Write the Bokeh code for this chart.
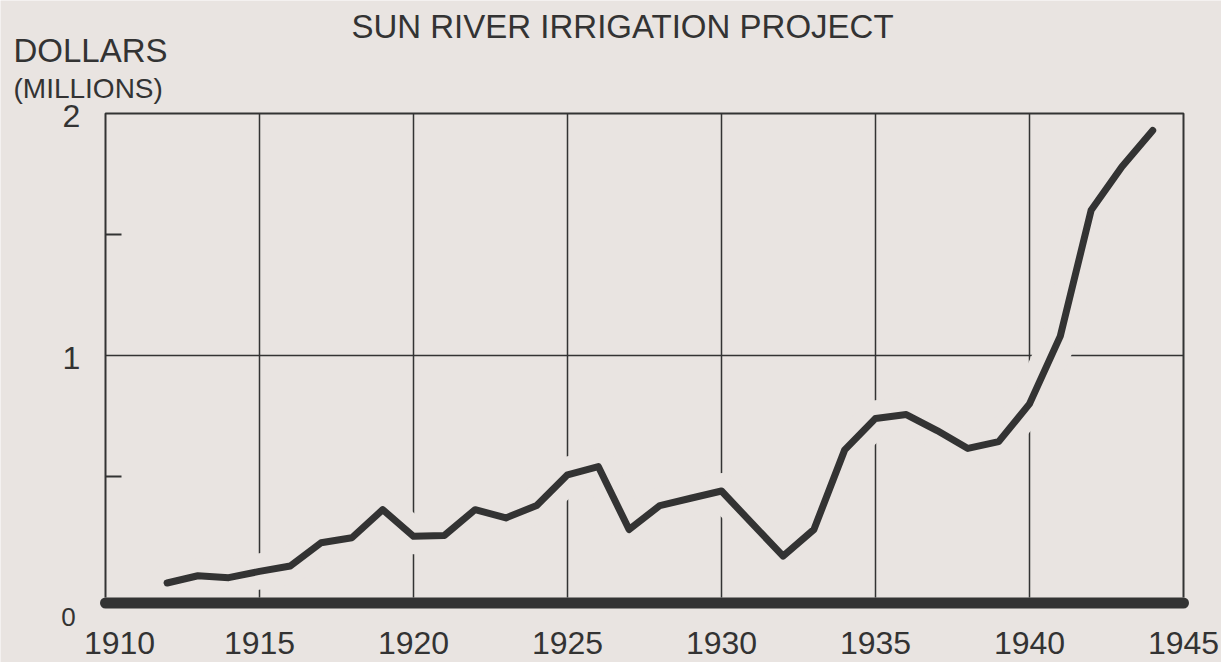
from bokeh.plotting import figure
from bokeh.models import Range1d
from bokeh.embed import file_html
from bokeh.resources import INLINE
from bokeh.core.properties import value

# ---- data ----
years = [1912, 1913, 1914, 1915, 1916, 1917, 1918, 1919, 1920, 1921, 1922,
         1923, 1924, 1925, 1926, 1927, 1928, 1929, 1930, 1931, 1932, 1933,
         1934, 1935, 1936, 1937, 1938, 1939, 1940, 1941, 1942, 1943, 1944]
costs = [0.06, 0.09, 0.082, 0.108, 0.13, 0.226, 0.247, 0.363, 0.253, 0.256, 0.363,
         0.329, 0.38, 0.507, 0.541, 0.281, 0.38, 0.41, 0.44, 0.305, 0.171, 0.281,
         0.61, 0.74, 0.756, 0.69, 0.616, 0.644, 0.80, 1.08, 1.60, 1.78, 1.93]
x_ticks = [1910, 1915, 1920, 1925, 1930, 1935, 1940, 1945]
y_ticks = [0, 1, 2]
y_minor = [0.5, 1.5]
title_text = "SUN RIVER IRRIGATION PROJECT"
unit_line1 = "DOLLARS"
unit_line2 = "(MILLIONS)"

# ---- layout / style ----
W, H = 1221, 662
PX_L, PX_R = 105, 1183        # chart box left / right edge (pixels)
PX_T, PX_B = 113, 597         # chart box top / zero line (pixels)
BG = "#e9e4e1"
INK = "#333333"
FONT = "Liberation Sans"

sx = (x_ticks[-1] - x_ticks[0]) / (PX_R - PX_L)   # data units per pixel
sy = (y_ticks[-1] - y_ticks[0]) / (PX_B - PX_T)
x0, x1 = x_ticks[0], x_ticks[-1]
y0, y1 = y_ticks[0], y_ticks[-1]

p = figure(width=W, height=H,
           x_range=Range1d(x0 - PX_L * sx, x1 + (W - PX_R) * sx),
           y_range=Range1d(y0 - (H - PX_B) * sy, y1 + PX_T * sy),
           output_backend="svg", toolbar_location=None, min_border=0)
p.background_fill_color = BG
p.border_fill_color = BG
p.outline_line_color = None
p.grid.visible = False
p.axis.visible = False

# grid lines
inner_x = x_ticks[1:-1]
p.segment(x0=inner_x, y0=[y0] * len(inner_x), x1=inner_x, y1=[y1] * len(inner_x),
          line_color=INK, line_width=1.5)
p.segment(x0=[x0], y0=[y_ticks[1]], x1=[x1], y1=[y_ticks[1]], line_color=INK, line_width=1.5)
# short inside ticks on the left edge
p.segment(x0=[x0] * len(y_minor), y0=y_minor, x1=[x0 + 16 * sx] * len(y_minor), y1=y_minor,
          line_color=INK, line_width=2)

# halo under the curve (grid lines break where the curve crosses)
p.line(years, costs, line_color=BG, line_width=36, line_cap="round", line_join="round")

# box: left, top, right
p.line([x0, x0, x1, x1], [y0, y1, y1, y0], line_color=INK, line_width=2)
# heavy base line (drawn just under the zero level)
p.line([x0, x1], [y0 - 5.5 * sy, y0 - 5.5 * sy], line_color=INK, line_width=11, line_cap="round")

# the curve
p.line(years, costs, line_color=INK, line_width=7, line_cap="round", line_join="round")

# x tick labels
xl_x = [t + (14 * sx if t == x0 else 0) for t in x_ticks]
p.text(x=xl_x, y=[y0 - 45 * sy] * len(x_ticks), text=[str(t) for t in x_ticks],
       text_align="center", text_baseline="middle", text_font=value(FONT),
       text_font_size=value("32px"), text_color=INK)
# y tick labels
p.text(x=[x0 - 34 * sx] * (len(y_ticks) - 1), y=[t - 2 * sy for t in y_ticks[1:]],
       text=[str(t) for t in y_ticks[1:]],
       text_align="center", text_baseline="middle", text_font=value(FONT),
       text_font_size=value("32px"), text_color=INK)
p.text(x=[x0 - 37 * sx], y=[y0 - 19 * sy], text=[str(y0)],
       text_align="center", text_baseline="middle", text_font=value(FONT),
       text_font_size=value("26px"), text_color=INK)

# title and unit labels
p.text(x=[x0 + (622 - PX_L) * sx], y=[y1 + (PX_T - 26) * sy], text=[title_text],
       text_align="center", text_baseline="middle", text_font=value(FONT),
       text_font_size=value("33px"), text_color=INK)
p.text(x=[x0 - (PX_L - 13) * sx], y=[y1 + (PX_T - 50) * sy], text=[unit_line1],
       text_align="left", text_baseline="middle", text_font=value(FONT),
       text_font_size=value("33px"), text_color=INK)
p.text(x=[x0 - (PX_L - 13) * sx], y=[y1 + (PX_T - 88) * sy], text=[unit_line2],
       text_align="left", text_baseline="middle", text_font=value(FONT),
       text_font_size=value("28px"), text_color=INK)

open("out.html", "w").write(file_html(p, INLINE))
